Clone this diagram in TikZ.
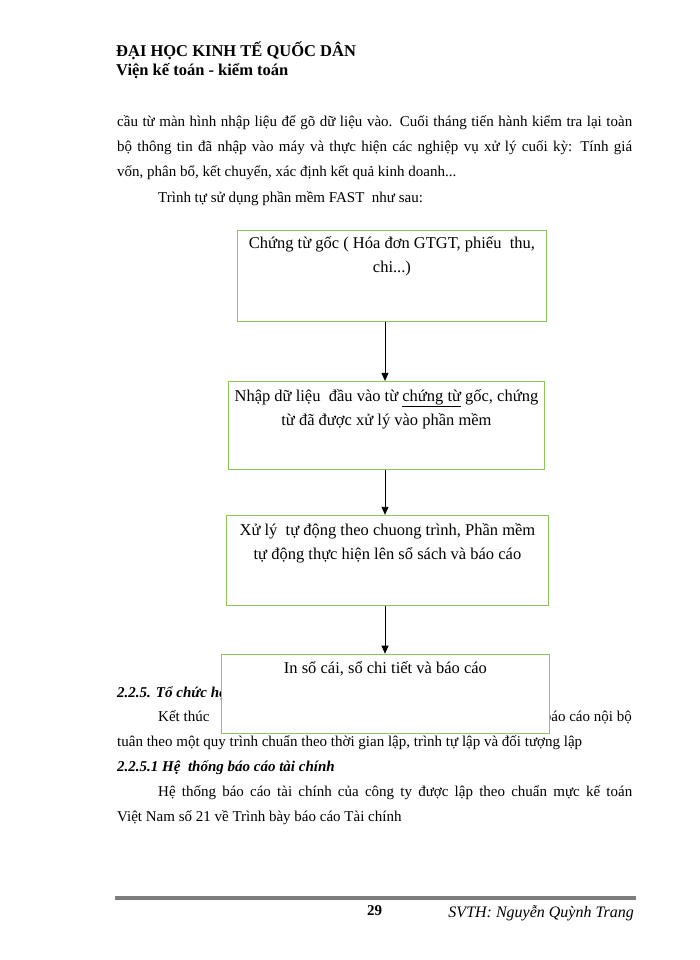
\documentclass[tikz,border=0pt]{standalone}
\usepackage{fontspec}
\setmainfont{Liberation Serif}
\usepackage{tikz}
\usetikzlibrary{arrows.meta,positioning}
\definecolor{boxgreen}{RGB}{140,198,90}
\definecolor{rulegray}{RGB}{125,125,125}
\newcommand{\hdfont}{\fontsize{16.5}{19}\selectfont\bfseries}
\newcommand{\bdfont}{\fontsize{15}{18}\selectfont}
\newcommand{\bxfont}{\fontsize{16.5}{24}\selectfont}
\tikzstyle{line}=[anchor=base west,inner sep=0pt,font=\bdfont]
\tikzstyle{stepbox}=[draw=boxgreen,line width=0.9pt,fill=white,inner sep=0pt,font=\bxfont]
\tikzstyle{flow}=[-{Triangle[length=8pt,width=7pt]},line width=0.9pt]
\begin{document}
\begin{tikzpicture}[x=1pt,y=-1pt]
        \path[fill=white,use as bounding box] (0,0) rectangle (700,960);
        % page header
        \node[line,font=\hdfont] (uni) at (116,57) {ĐẠI HỌC KINH TẾ QUỐC DÂN};
        \node[line,font=\hdfont] (dept) at (116,76) {Viện kế toán - kiểm toán};
        % text above the chart
        \node[line] (l1) at (117,127) {\makebox[515pt][s]{cầu từ màn hình nhập liệu để gõ dữ liệu vào. Cuối tháng tiến hành kiểm tra lại toàn}};
        \node[line] (l2) at (117,152) {\makebox[515pt][s]{bộ thông tin đã nhập vào máy và thực hiện các nghiệp vụ xử lý cuối kỳ: Tính giá}};
        \node[line] (l3) at (117,177) {vốn, phân bổ, kết chuyển, xác định kết quả kinh doanh...};
        \node[line] (l4) at (158,202) {Trình tự sử dụng phần mềm FAST\ \ như sau:};
        % text below, partly hidden by the last box
        \node[line,font=\bdfont\bfseries\itshape] (sec) at (117,697) {2.2.5. Tổ chức hệ};
        \node[line] (l5) at (158,721) {Kết thúc};
        \node[line,anchor=base east] (l5b) at (632,721) {báo cáo nội bộ};
        \node[line] (l6) at (117,746) {tuân theo một quy trình chuẩn theo thời gian lập, trình tự lập và đối tượng lập};
        \node[line,font=\bdfont\bfseries\itshape] (subsec) at (117,771) {2.2.5.1 Hệ\ \ thống báo cáo tài chính};
        \node[line] (l7) at (158,796) {\makebox[474pt][s]{Hệ thống báo cáo tài chính của công ty được lập theo chuẩn mực kế toán}};
        \node[line] (l8) at (117,821) {Việt Nam số 21 về Trình bày báo cáo Tài chính};
        % the chart
        \node[stepbox,anchor=north west] (source) at (237,230) {\parbox[t][91pt][t]{309pt}{\centering\rule{0pt}{18pt}Chứng từ gốc ( Hóa đơn GTGT, phiếu\ \ thu,\\chi...)}};
        \node[stepbox,below right=59pt and -9pt of source.south west] (input) {\parbox[t][88pt][t]{316pt}{\centering\rule{0pt}{20pt}Nhập dữ liệu\ \ đầu vào từ \underline{chứng từ} gốc, chứng\\từ đã được xử lý vào phần mềm}};
        \node[stepbox,below right=45pt and -2pt of input.south west] (process) {\parbox[t][90pt][t]{322pt}{\centering\rule{0pt}{20pt}Xử lý\ \ tự động theo chuong trình, Phần mềm\\tự động thực hiện lên sổ sách và báo cáo}};
        \node[stepbox,below right=48pt and -5pt of process.south west] (print) {\parbox[t][79pt][t]{328pt}{\centering\rule{0pt}{19pt}In sổ cái, sổ chi tiết và báo cáo}};
        \coordinate (spine) at (385,0);
        \draw[flow] (source.south -| spine) -- (input.north -| spine);
        \draw[flow] (input.south -| spine) -- (process.north -| spine);
        \draw[flow] (process.south -| spine) -- (print.north -| spine);
        % page footer
        \draw[rulegray,line width=3.5pt] (115,898) -- (636,898);
        \node[line,font=\fontsize{15}{18}\selectfont\bfseries] (pageno) at (367,915) {29};
        \node[line,font=\fontsize{16}{19}\selectfont\itshape,anchor=base east] (author) at (634,917) {SVTH: Nguyễn Quỳnh Trang};
    \end{tikzpicture}
\end{document}
